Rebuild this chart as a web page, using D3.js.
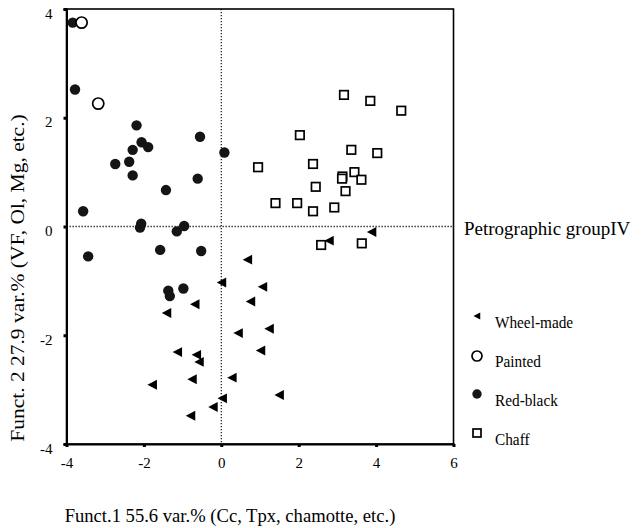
<!DOCTYPE html>
<html>
<head>
<meta charset="utf-8">
<title>Petrographic group IV</title>
<script src="https://d3js.org/d3.v7.min.js"></script>
<style>
  body { margin: 0; background: #fff; }
  svg text { font-family: "Liberation Serif", "Times New Roman", serif !important; fill: #000; }
</style>
</head>
<body>
<div id="chart"></div>
<script>
// discriminant scores: [funct1, funct2]
var wheelMade = [
  [0.68, -0.61], [0.01, -1.03], [0.76, -1.38], [-0.68, -1.43], [-1.41, -1.59],
  [0.44, -1.96], [-1.13, -2.31], [-0.64, -2.36], [-0.57, -2.49], [-0.75, -2.81],
  [0.28, -2.78], [-1.78, -2.91], [0.03, -3.16], [-0.21, -3.32], [-0.79, -3.48],
  [3.89, -0.10], [2.79, -0.26], [1.07, -1.11], [1.24, -1.88], [1.02, -2.28],
  [1.50, -3.10]
];
var painted = [
  [-3.61, 3.75], [-3.18, 2.26]
];
var redBlack = [
  [-3.84, 3.75], [-3.78, 2.52], [-2.19, 1.86], [-0.55, 1.65], [-2.06, 1.55],
  [-1.89, 1.46], [-2.29, 1.41], [0.08, 1.36], [-2.74, 1.15], [-2.38, 1.19],
  [-2.29, 0.94], [-0.61, 0.88], [-1.43, 0.67], [-3.57, 0.28], [-2.07, 0.05],
  [-2.10, -0.02], [-0.96, 0.01], [-1.15, -0.09], [-3.44, -0.55], [-1.58, -0.43],
  [-0.52, -0.45], [-1.37, -1.18], [-1.33, -1.28], [-0.98, -1.14]
];
var chaff = [
  [3.17, 2.42], [3.85, 2.31], [4.65, 2.13], [2.03, 1.68], [3.36, 1.41],
  [4.03, 1.35], [0.95, 1.09], [2.37, 1.15], [3.13, 0.92], [3.12, 0.88],
  [3.44, 1.00], [3.62, 0.86], [2.44, 0.73], [3.21, 0.65], [1.40, 0.43],
  [1.96, 0.43], [2.37, 0.28], [2.92, 0.35], [2.58, -0.34], [3.63, -0.31]
];
var xTicks = [-4, -2, 0, 2, 4, 6];
var yTicks = [-4, -2, 0, 2, 4];
var legendLabels = ["Wheel-made", "Painted", "Red-black", "Chaff"];
var groupTitle = "Petrographic groupIV";
var xTitle = "Funct.1 55.6 var.% (Cc, Tpx, chamotte, etc.)";
var yTitle = "Funct. 2 27.9 var.% (VF, Ol, Mg, etc.)";

var serif = "'Liberation Serif', 'Times New Roman', serif";
var width = 641, height = 528;
var svg = d3.select("#chart").append("svg")
  .attr("width", width)
  .attr("height", height)
  .attr("font-family", serif);

var x = d3.scaleLinear().domain([-4, 6]).range([66.5, 453.5]);
var y = d3.scaleLinear().domain([-4, 4]).range([444, 9]);

// zero reference lines
svg.append("line")
  .attr("x1", x(-4)).attr("x2", x(6))
  .attr("y1", y(0)).attr("y2", y(0))
  .attr("stroke", "#222").attr("stroke-width", 1.3)
  .attr("stroke-dasharray", "1.3,1.7");
svg.append("line")
  .attr("x1", x(0)).attr("x2", x(0))
  .attr("y1", y(4)).attr("y2", y(-4))
  .attr("stroke", "#222").attr("stroke-width", 1.3)
  .attr("stroke-dasharray", "1.3,1.7");

// frame
svg.append("rect")
  .attr("x", x(-4)).attr("y", y(4))
  .attr("width", x(6) - x(-4)).attr("height", y(-4) - y(4))
  .attr("fill", "none").attr("stroke", "#000").attr("stroke-width", 1.6);

// axes
var xAxis = svg.append("g")
  .attr("transform", "translate(0," + y(-4) + ")")
  .call(d3.axisBottom(x).tickValues(xTicks).tickSize(3).tickPadding(10));
var yAxis = svg.append("g")
  .attr("transform", "translate(" + x(-4) + ",0)")
  .call(d3.axisLeft(y).tickValues(yTicks).tickSize(3).tickPadding(11));
[xAxis, yAxis].forEach(function(g) {
  g.attr("font-family", serif).attr("font-size", 15);
  g.select(".domain").attr("stroke", "#000").attr("stroke-width", 2);
  g.selectAll(".tick line").attr("stroke", "#000").attr("stroke-width", 3);
  g.selectAll(".tick text")
    .style("font-family", serif)
    .style("font-size", "15px")
    .text(function(d) { return d < 0 ? "-" + Math.abs(d) : d; });
});
yAxis.selectAll(".tick text").attr("dy", "0.6em");

// marker drawing helpers
function triPath(s) {
  return "M" + (-s * 0.55) + ",0L" + (s * 0.5) + "," + (-s * 0.55) + "L" + (s * 0.5) + "," + (s * 0.55) + "Z";
}
function drawFilled(sel, r) {
  sel.append("circle").attr("r", r).attr("fill", "#151515");
}
function drawOpen(sel, r) {
  sel.append("circle").attr("r", r).attr("fill", "#fff")
    .attr("stroke", "#000").attr("stroke-width", 1.7);
}
function drawSquare(sel, s) {
  sel.append("rect").attr("x", -s / 2).attr("y", -s / 2)
    .attr("width", s).attr("height", s)
    .attr("fill", "#fff").attr("stroke", "#000").attr("stroke-width", 1.7);
}
function drawTri(sel, s) {
  sel.append("path").attr("d", triPath(s)).attr("fill", "#000");
}

function plot(data, fn, size) {
  svg.append("g").selectAll("g")
    .data(data)
    .enter().append("g")
    .attr("transform", function(d) { return "translate(" + x(d[0]) + "," + y(d[1]) + ")"; })
    .each(function() { fn(d3.select(this), size); });
}
plot(redBlack, drawFilled, 5.2);
plot(painted, drawOpen, 5.6);
plot(chaff, drawSquare, 8.5);
plot(wheelMade, drawTri, 9);

// legend
var legendY = [316, 356, 394, 433];
var legendFns = [drawTri, drawOpen, drawFilled, drawSquare];
var legendSizes = [6.5, 5, 4.7, 8];
var legendBase = [328, 367, 406, 445];
legendLabels.forEach(function(lbl, i) {
  var g = svg.append("g").attr("transform", "translate(477," + legendY[i] + ")");
  legendFns[i](g, legendSizes[i]);
  svg.append("text")
    .attr("transform", "translate(495," + legendBase[i] + ") scale(1,1.12)")
    .style("font-family", serif)
    .style("font-size", "15.3px")
    .text(lbl);
});

// titles
svg.append("text")
  .attr("x", 464).attr("y", 235)
  .style("font-family", serif)
  .style("font-size", "19px")
  .text(groupTitle);

svg.append("text")
  .attr("x", 230).attr("y", 522)
  .attr("text-anchor", "middle")
  .style("font-family", serif)
  .style("font-size", "18.6px")
  .text(xTitle);

svg.append("text")
  .attr("transform", "translate(24,278) rotate(-90) scale(1.13,1)")
  .attr("text-anchor", "middle")
  .style("font-family", serif)
  .style("font-size", "19px")
  .text(yTitle);
</script>
</body>
</html>
